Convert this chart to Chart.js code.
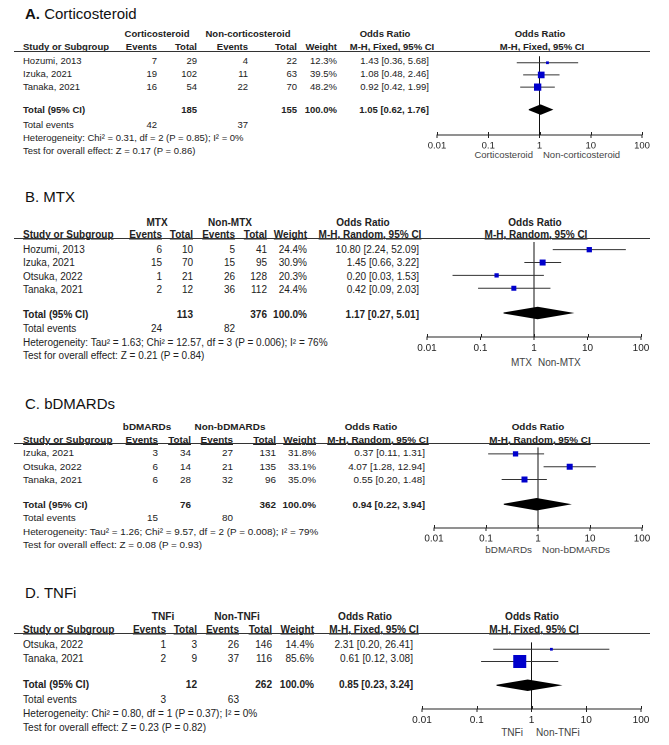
<!DOCTYPE html>
<html>
<head>
<meta charset="utf-8">
<script src="https://cdn.jsdelivr.net/npm/chart.js@4/dist/chart.umd.min.js"></script>
<style>
  html, body { margin: 0; padding: 0; background: #fff; }
  body { width: 669px; height: 745px; position: relative; overflow: hidden;
         font-family: "Liberation Sans", Arial, sans-serif; color: #222; }
  .t { position: absolute; white-space: nowrap; font-size: 9.5px; line-height: 12px; }
  .b { font-weight: bold; }
  .u { text-decoration: underline; }
  .rule { position: absolute; height: 0; border-top: 1px solid #333; }
  canvas { position: absolute; }
</style>
</head>
<body>
<script>
// ================= DATA =================
// A. Corticosteroid (M-H, Fixed)
const studiesA = ["Hozumi, 2013", "Izuka, 2021", "Tanaka, 2021"];
const evExpA = [7, 19, 16];
const totExpA = [29, 102, 54];
const evCtlA = [4, 11, 22];
const totCtlA = [22, 63, 70];
const weightA = [12.3, 39.5, 48.2];
const orA = [1.43, 1.08, 0.92];
const loA = [0.36, 0.48, 0.42];
const hiA = [5.68, 2.46, 1.99];
const pooledA = [1.05, 0.62, 1.76];
const totalsA = [185, 155];
const totalEventsA = [42, 37];

// B. MTX (M-H, Random)
const studiesB = ["Hozumi, 2013", "Izuka, 2021", "Otsuka, 2022", "Tanaka, 2021"];
const evExpB = [6, 15, 1, 2];
const totExpB = [10, 70, 21, 12];
const evCtlB = [5, 15, 26, 36];
const totCtlB = [41, 95, 128, 112];
const weightB = [24.4, 30.9, 20.3, 24.4];
const orB = [10.80, 1.45, 0.20, 0.42];
const loB = [2.24, 0.66, 0.03, 0.09];
const hiB = [52.09, 3.22, 1.53, 2.03];
const pooledB = [1.17, 0.27, 5.01];
const totalsB = [113, 376];
const totalEventsB = [24, 82];

// C. bDMARDs (M-H, Random)
const studiesC = ["Izuka, 2021", "Otsuka, 2022", "Tanaka, 2021"];
const evExpC = [3, 6, 6];
const totExpC = [34, 14, 28];
const evCtlC = [27, 21, 32];
const totCtlC = [131, 135, 96];
const weightC = [31.8, 33.1, 35.0];
const orC = [0.37, 4.07, 0.55];
const loC = [0.11, 1.28, 0.20];
const hiC = [1.31, 12.94, 1.48];
const pooledC = [0.94, 0.22, 3.94];
const totalsC = [76, 362];
const totalEventsC = [15, 80];

// D. TNFi (M-H, Fixed)
const studiesD = ["Otsuka, 2022", "Tanaka, 2021"];
const evExpD = [1, 2];
const totExpD = [3, 9];
const evCtlD = [26, 37];
const totCtlD = [146, 116];
const weightD = [14.4, 85.6];
const orD = [2.31, 0.61];
const loD = [0.20, 0.12];
const hiD = [26.41, 3.08];
const pooledD = [0.85, 0.23, 3.24];
const totalsD = [12, 262];
const totalEventsD = [3, 63];

// Axis ticks
const tickValues = [0.01, 0.1, 1, 10, 100];
const tickLabels = ["0.01", "0.1", "1", "10", "100"];

// ================= LAYOUT / STYLE =================
const panels = [
  { letter: "A.", letterBold: true, name: "Corticosteroid", titleY: 14, fs: 9.5,
    exp: "Corticosteroid", ctl: "Non-corticosteroid", method: "M-H, Fixed, 95% CI",
    studies: studiesA, evE: evExpA, totE: totExpA, evC: evCtlA, totC: totCtlA, wt: weightA,
    or: orA, lo: loA, hi: hiA, pooled: pooledA, totals: totalsA, tev: totalEventsA,
    het: "Heterogeneity: Chi² = 0.31, df = 2 (P = 0.85); I² = 0%",
    test: "Test for overall effect: Z = 0.17 (P = 0.86)",
    favL: "Corticosteroid", favR: "Non-corticosteroid",
    h1Y: 34, h2Y: 47, lineY: 51, ruleR: 650,
    gE: 157, gC: 248, cEvE: 157, cTotE: 197, cEvC: 248, cTotC: 297, cWt: 337, cOr: 429,
    orHead: 385, orHead2: 392,
    rowY: 61, step: 13, totalY: 110, tevY: 125, hetY: 138, testY: 151,
    x0: 437, x1: 642, axisY: 135, plotHead: 540, plotHead2: 542, favY: 155, favLx: 533, favRx: 543,
    sq: [2.8, 6.7, 7.3], dh: 5 },
  { letter: "B.", letterBold: false, name: "MTX", titleY: 197, fs: 10,
    exp: "MTX", ctl: "Non-MTX", method: "M-H, Random, 95% CI",
    studies: studiesB, evE: evExpB, totE: totExpB, evC: evCtlB, totC: totCtlB, wt: weightB,
    or: orB, lo: loB, hi: hiB, pooled: pooledB, totals: totalsB, tev: totalEventsB,
    het: "Heterogeneity: Tau² = 1.63; Chi² = 12.57, df = 3 (P = 0.006); I² = 76%",
    test: "Test for overall effect: Z = 0.21 (P = 0.84)",
    favL: "MTX", favR: "Non-MTX",
    h1Y: 222, h2Y: 234, lineY: 238, ruleR: 650,
    gE: 157, gC: 230, cEvE: 162, cTotE: 193, cEvC: 235, cTotC: 267, cWt: 307, cOr: 419,
    orHead: 363, orHead2: 370,
    rowY: 249, step: 13.4, totalY: 314, tevY: 328, hetY: 342, testY: 355,
    x0: 427, x1: 641, axisY: 337, plotHead: 535, plotHead2: 536, favY: 362, favLx: 532, favRx: 538,
    sq: [5.3, 6, 4.3, 5], dh: 6 },
  { letter: "C.", letterBold: false, name: "bDMARDs", titleY: 404, fs: 9.9,
    exp: "bDMARDs", ctl: "Non-bDMARDs", method: "M-H, Random, 95% CI",
    studies: studiesC, evE: evExpC, totE: totExpC, evC: evCtlC, totC: totCtlC, wt: weightC,
    or: orC, lo: loC, hi: hiC, pooled: pooledC, totals: totalsC, tev: totalEventsC,
    het: "Heterogeneity: Tau² = 1.26; Chi² = 9.57, df = 2 (P = 0.008); I² = 79%",
    test: "Test for overall effect: Z = 0.08 (P = 0.93)",
    favL: "bDMARDs", favR: "Non-bDMARDs",
    h1Y: 427, h2Y: 440, lineY: 443, ruleR: 650,
    gE: 147, gC: 230, cEvE: 158, cTotE: 191, cEvC: 233, cTotC: 276, cWt: 316, cOr: 425,
    orHead: 371, orHead2: 378,
    rowY: 453, step: 13.5, totalY: 505, tevY: 518, hetY: 532, testY: 545,
    x0: 434, x1: 642, axisY: 528, plotHead: 538, plotHead2: 540, favY: 550, favLx: 532, favRx: 542,
    sq: [5.3, 6, 6], dh: 6 },
  { letter: "D.", letterBold: false, name: "TNFi", titleY: 593, fs: 10.1,
    exp: "TNFi", ctl: "Non-TNFi", method: "M-H, Fixed, 95% CI",
    studies: studiesD, evE: evExpD, totE: totExpD, evC: evCtlD, totC: totCtlD, wt: weightD,
    or: orD, lo: loD, hi: hiD, pooled: pooledD, totals: totalsD, tev: totalEventsD,
    het: "Heterogeneity: Chi² = 0.80, df = 1 (P = 0.37); I² = 0%",
    test: "Test for overall effect: Z = 0.23 (P = 0.82)",
    favL: "TNFi", favR: "Non-TNFi",
    h1Y: 616, h2Y: 629, lineY: 633, ruleR: 650,
    gE: 163, gC: 237, cEvE: 166, cTotE: 197, cEvC: 239, cTotC: 272, cWt: 314, cOr: 413,
    orHead: 365, orHead2: 374,
    rowY: 644, step: 14, totalY: 684, tevY: 699, hetY: 713, testY: 727,
    x0: 422, x1: 641, axisY: 709, plotHead: 532, plotHead2: 534, favY: 732, favLx: 523, favRx: 536,
    sq: [2.8, 13], dh: 6 }
];

const FONT = '"Liberation Sans", Arial, sans-serif';
let curFs = 9.5;

function txt(x, y, s, align, cls, size) {
  const d = document.createElement('div');
  d.className = 't' + (cls ? ' ' + cls : '');
  d.textContent = s;
  const fs = size || curFs;
  d.style.fontSize = fs + 'px';
  d.style.lineHeight = Math.round(fs * 1.25) + 'px';
  let tx = '0';
  if (align === 'r') tx = '-100%';
  else if (align === 'c') tx = '-50%';
  d.style.left = x + 'px';
  d.style.top = y + 'px';
  d.style.transform = 'translate(' + tx + ', -50%)';
  document.body.appendChild(d);
  return d;
}
function fmtOR(o, l, h) { return o.toFixed(2) + ' [' + l.toFixed(2) + ', ' + h.toFixed(2) + ']'; }

const tickUpPlugin = {
  id: 'tickUp',
  afterDraw(chart) {
    const sx = chart.scales.x;
    const ctx = chart.ctx;
    const yb = chart.chartArea.bottom;
    ctx.save();
    ctx.strokeStyle = '#222';
    ctx.lineWidth = 1;
    tickValues.forEach(v => {
      const px = Math.round(sx.getPixelForValue(v)) + 0.5;
      ctx.beginPath();
      ctx.moveTo(px, yb - 3);
      ctx.lineTo(px, yb);
      ctx.stroke();
    });
    ctx.restore();
  }
};

panels.forEach(p => {
  curFs = p.fs;
  // Title
  const title = document.createElement('div');
  title.className = 't';
  title.style.fontSize = '15px';
  title.style.lineHeight = '18px';
  title.style.left = '25px';
  title.style.top = p.titleY + 'px';
  title.style.transform = 'translate(0, -50%)';
  title.style.color = '#111';
  const lt = document.createElement('span');
  lt.textContent = p.letter;
  if (p.letterBold) lt.style.fontWeight = 'bold';
  title.appendChild(lt);
  title.appendChild(document.createTextNode(' ' + p.name));
  document.body.appendChild(title);

  // Headers
  txt(p.gE, p.h1Y, p.exp, 'c', 'b');
  txt(p.gC, p.h1Y, p.ctl, 'c', 'b');
  txt(p.orHead, p.h1Y, 'Odds Ratio', 'c', 'b');
  txt(p.plotHead, p.h1Y, 'Odds Ratio', 'c', 'b');
  txt(23, p.h2Y, 'Study or Subgroup', 'l', 'b u');
  txt(p.cEvE, p.h2Y, 'Events', 'r', 'b u');
  txt(p.cTotE, p.h2Y, 'Total', 'r', 'b u');
  txt(p.cEvC, p.h2Y, 'Events', 'r', 'b u');
  txt(p.cTotC, p.h2Y, 'Total', 'r', 'b u');
  txt(p.cWt, p.h2Y, 'Weight', 'r', 'b u');
  txt(p.orHead2, p.h2Y, p.method, 'c', 'b u');
  txt(p.plotHead2, p.h2Y, p.method, 'c', 'b u');

  const rule = document.createElement('div');
  rule.className = 'rule';
  rule.style.left = '14px';
  rule.style.width = (p.ruleR - 14) + 'px';
  rule.style.top = p.lineY + 'px';
  document.body.appendChild(rule);

  // Rows
  p.studies.forEach((s, i) => {
    const y = p.rowY + i * p.step;
    txt(23, y, s, 'l');
    txt(p.cEvE, y, String(p.evE[i]), 'r');
    txt(p.cTotE, y, String(p.totE[i]), 'r');
    txt(p.cEvC, y, String(p.evC[i]), 'r');
    txt(p.cTotC, y, String(p.totC[i]), 'r');
    txt(p.cWt, y, p.wt[i].toFixed(1) + '%', 'r');
    txt(p.cOr, y, fmtOR(p.or[i], p.lo[i], p.hi[i]), 'r');
  });
  txt(23, p.totalY, 'Total (95% CI)', 'l', 'b');
  txt(p.cTotE, p.totalY, String(p.totals[0]), 'r', 'b');
  txt(p.cTotC, p.totalY, String(p.totals[1]), 'r', 'b');
  txt(p.cWt, p.totalY, '100.0%', 'r', 'b');
  txt(p.cOr, p.totalY, fmtOR(p.pooled[0], p.pooled[1], p.pooled[2]), 'r', 'b');
  txt(23, p.tevY, 'Total events', 'l');
  txt(p.cEvE, p.tevY, String(p.tev[0]), 'r');
  txt(p.cEvC, p.tevY, String(p.tev[1]), 'r');
  txt(23, p.hetY, p.het, 'l');
  txt(23, p.testY, p.test, 'l');

  // Favours labels
  const fl = txt(p.favLx, p.favY, p.favL, 'r');
  const fr = txt(p.favRx, p.favY, p.favR, 'l');
  fl.style.color = '#444'; fr.style.color = '#444';

  // Forest plot canvas
  const padX = 22, axisH = 20;
  const cv = document.createElement('canvas');
  const W = (p.x1 - p.x0) + 2 * padX;
  const H = (p.axisY - p.lineY) + axisH;
  cv.width = W; cv.height = H;
  cv.style.left = (p.x0 - padX) + 'px';
  cv.style.top = p.lineY + 'px';
  cv.style.width = W + 'px';
  cv.style.height = H + 'px';
  document.body.appendChild(cv);

  const rowPix = i => p.rowY - 3 + i * p.step;
  const diamY = p.totalY - 2;

  const datasets = [];
  // vertical line of no effect
  datasets.push({ data: [{ x: 1, y: p.lineY }, { x: 1, y: p.axisY }],
    borderColor: '#111', borderWidth: 1, pointRadius: 0, showLine: true, fill: false, order: 5 });
  // CI lines
  p.studies.forEach((s, i) => {
    datasets.push({ data: [{ x: p.lo[i], y: rowPix(i) }, { x: p.hi[i], y: rowPix(i) }],
      borderColor: '#333', borderWidth: 1, pointRadius: 0, showLine: true, fill: false, order: 4 });
  });
  // squares
  datasets.push({ data: p.or.map((o, i) => ({ x: o, y: rowPix(i) })),
    showLine: false, pointStyle: 'rect',
    pointRadius: p.sq.map(s => s / Math.SQRT2),
    pointBackgroundColor: '#0000CC', pointBorderWidth: 0, pointBorderColor: '#0000CC',
    order: 1 });
  // pooled diamond
  datasets.push({ data: [
      { x: p.pooled[1], y: diamY }, { x: p.pooled[0], y: diamY - p.dh },
      { x: p.pooled[2], y: diamY }, { x: p.pooled[0], y: diamY + p.dh },
      { x: p.pooled[1], y: diamY } ],
    showLine: true, fill: 'shape', backgroundColor: '#000', borderColor: '#000',
    borderWidth: 1, pointRadius: 0, tension: 0, order: 2 });

  new Chart(cv, {
    type: 'line',
    data: { datasets },
    options: {
      responsive: false,
      animation: false,
      devicePixelRatio: 2,
      layout: { padding: { left: padX, right: padX, top: 0, bottom: 0 } },
      plugins: { legend: { display: false }, tooltip: { enabled: false } },
      elements: { line: { tension: 0 } },
      scales: {
        x: {
          type: 'logarithmic', min: 0.01, max: 100,
          afterBuildTicks: sc => { sc.ticks = tickValues.map(v => ({ value: v })); },
          afterFit: sc => { sc.height = axisH; },
          ticks: { autoSkip: false, maxRotation: 0, padding: 2, color: '#222',
                   font: { family: FONT, size: p.fs },
                   callback: (v, idx) => tickLabels[idx] },
          grid: { display: true, drawOnChartArea: false, drawTicks: true, tickLength: 3, color: '#222' },
          border: { display: true, color: '#222', width: 1 }
        },
        y: { type: 'linear', display: false, reverse: true, min: p.lineY, max: p.axisY }
      }
    },
    plugins: [tickUpPlugin]
  });
});
</script>
</body>
</html>
